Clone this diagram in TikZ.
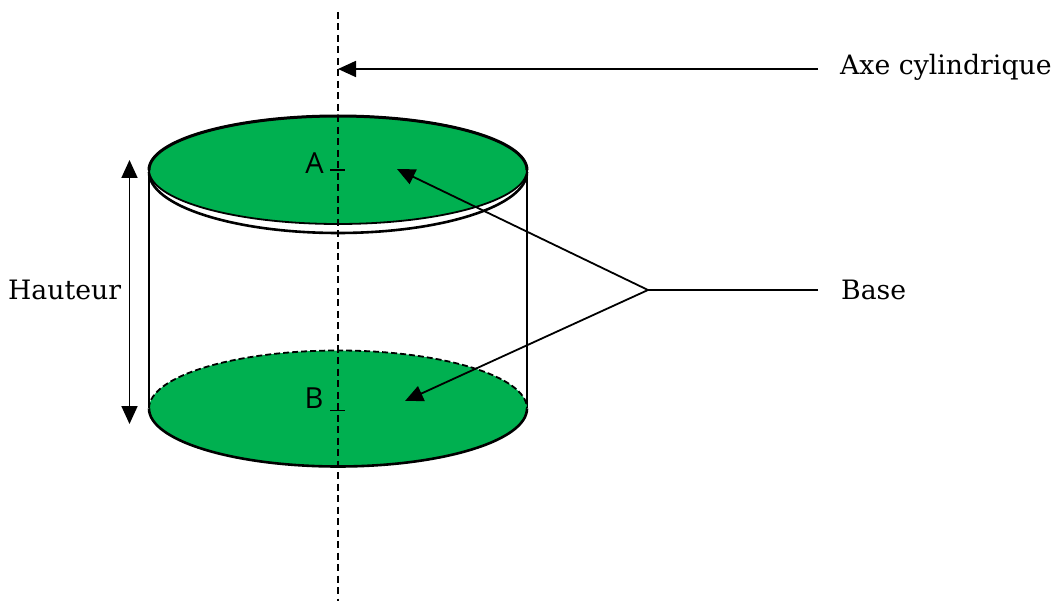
\documentclass[tikz,border=0pt]{standalone}
\usepackage{fontspec}
\setmainfont{DejaVu Serif}
\newfontfamily\ptfont{Open Sans}
\usetikzlibrary{arrows.meta}
\definecolor{basegreen}{RGB}{0,176,80}
\tikzset{
 lbl/.style={font=\fontsize{26.7}{28}\selectfont,inner sep=0pt,anchor=west},
 pt/.style={font=\ptfont\fontsize{29}{30}\selectfont,inner sep=0pt},
 edge/.style={line width=2.6pt},
 leader/.style={line width=1.8pt},
 tipped/.style={leader,-{Triangle[length=18pt,width=16pt]}},
 both/.style={leader,{Triangle[length=18pt,width=16pt]}-{Triangle[length=18pt,width=16pt]}},
 axis/.style={line width=1.7pt,dash pattern=on 7pt off 4.5pt},
}
\begin{document}
\begin{tikzpicture}[x=1pt,y=-1pt]
\useasboundingbox (0,0) rectangle (1057,601);
% cylinder
\draw[edge] (149,172) arc[start angle=180,end angle=0,x radius=189,y radius=61];
\draw[edge] (149,172) -- (149,408);
\draw[edge] (527,172) -- (527,408);
% bottom base
\fill[basegreen] (338,408.5) ellipse[x radius=189,y radius=58];
\draw[edge] (149,408.5) arc[start angle=180,end angle=0,x radius=189,y radius=58];
\draw[leader,dash pattern=on 6pt off 3pt] (149,408.5) arc[start angle=180,end angle=360,x radius=189,y radius=58];
% top base
\filldraw[fill=basegreen,draw=black,line width=1.8pt] (338,170) ellipse[x radius=189,y radius=54];
\draw[line width=3pt,line cap=round] (149,170) arc[start angle=180,end angle=360,x radius=189,y radius=54];
% axis
\coordinate (axtop) at (338,12);
\coordinate (axbot) at (338,601);
\draw[axis] (axtop) -- (axbot);
% centre marks
\coordinate (a1) at (330,170); \coordinate (a2) at (345,170);
\draw[line width=1.2pt] (a1) -- (a2);
\coordinate (b1) at (330,410.5); \coordinate (b2) at (345,410.5);
\draw[line width=1.2pt] (b1) -- (b2);
\draw[line width=1.2pt] (338,404) -- (338,410.5);
\node[pt] (A) at (314.5,163.5) {A};
\node[pt] (B) at (314,398.5) {B};
% labels
\node[lbl] (axe) at (840,67) {Axe cylindrique};
\node[lbl] (base) at (841,290) {Base};
\node[lbl] (haut) at (8,290) {Hauteur};
% leaders
\coordinate (axpt) at (338,69);
\coordinate (axstart) at (818,69);
\draw[tipped] (axstart) -- (axpt);
\coordinate (j) at (648,290);
\coordinate (bstart) at (818,290);
\coordinate (ta) at (397,169);
\coordinate (tb) at (405,401);
\draw[leader] (bstart) -- (j);
\draw[tipped] (j) -- (ta);
\draw[tipped] (j) -- (tb);
\coordinate (h1) at (129.5,160);
\coordinate (h2) at (129.5,424);
\draw[both] (h1) -- (h2);
\end{tikzpicture}
\end{document}
